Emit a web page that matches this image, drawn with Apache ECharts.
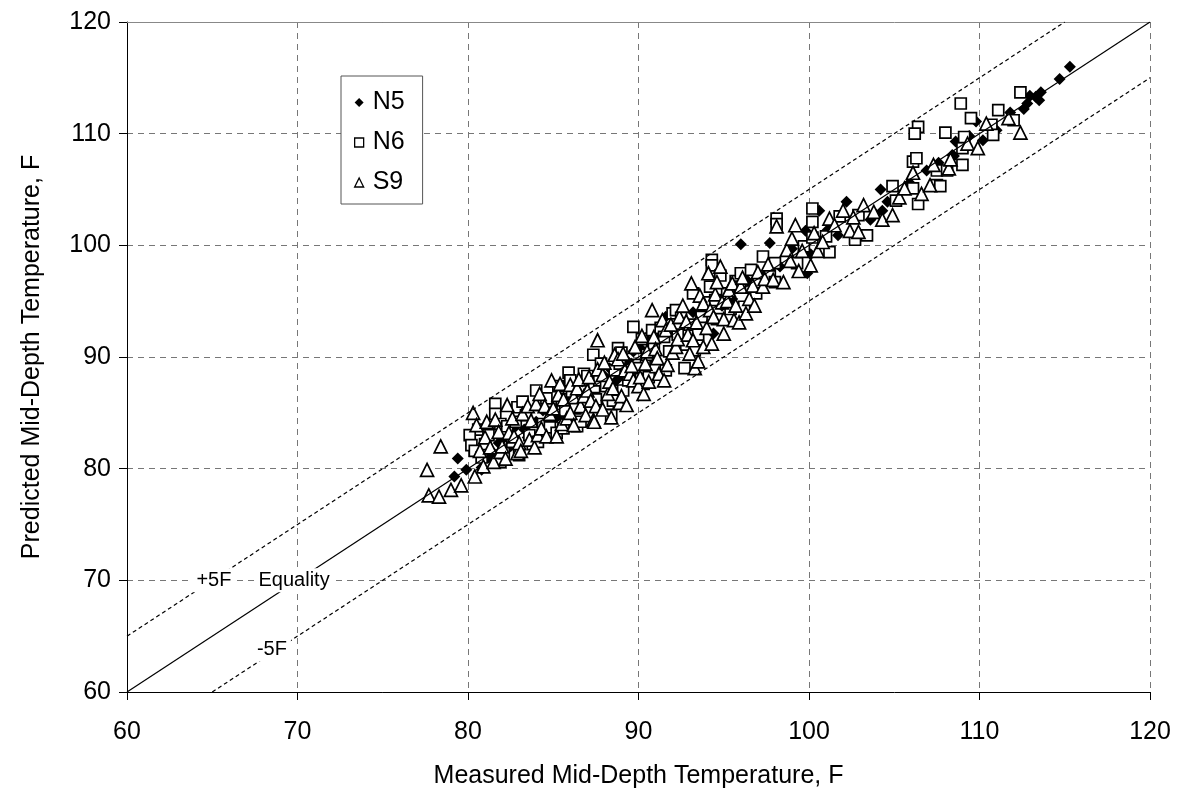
<!DOCTYPE html>
<html>
<head>
<meta charset="utf-8">
<script src="https://cdn.jsdelivr.net/npm/echarts@6/dist/echarts.min.js"></script>
<style>
  html, body { margin: 0; padding: 0; background: #fff; }
  #chart { width: 1177px; height: 794px; }
</style>
</head>
<body>
<div id="chart"></div>
<script>
// measured vs predicted mid-depth temperature, F
const axisTicks = [60, 70, 80, 90, 100, 110, 120]

const n5 = [
  [79.2, 79.3], [79.4, 80.9], [79.9, 79.9], [80.8, 80.1], [80.8, 79.9], [81.2, 81.0], [81.5, 81.4],
  [81.8, 82.3], [82.0, 82.6], [82.5, 82.0], [82.8, 83.8], [83.3, 83.5], [83.5, 82.8], [84.0, 84.2],
  [84.4, 85.2], [84.8, 85.6], [85.2, 84.6], [85.6, 85.0], [86.0, 86.0], [86.3, 86.8], [86.7, 87.8],
  [87.2, 86.9], [87.5, 87.8], [88.0, 88.3], [88.3, 89.0], [88.7, 87.9], [89.0, 88.4], [89.3, 89.7],
  [89.7, 90.5], [90.1, 90.8], [90.4, 91.7], [90.8, 91.4], [91.1, 92.3], [91.6, 93.6], [91.9, 92.3],
  [92.6, 93.5], [93.2, 94.0], [93.7, 94.0], [94.4, 92.1], [94.9, 94.6], [95.5, 95.2], [96.0, 100.1],
  [96.4, 96.8], [97.5, 97.5], [97.7, 100.2], [98.3, 98.1], [99.0, 99.7], [99.8, 101.3], [99.9, 97.5],
  [100.1, 99.2], [100.6, 103.1], [101.1, 101.4], [101.7, 100.9], [102.2, 103.9], [103.6, 102.3],
  [103.9, 102.8], [104.2, 105.0], [104.3, 103.1], [104.6, 103.9], [105.9, 105.6], [106.9, 106.7],
  [107.6, 107.4], [108.4, 108.1], [108.5, 108.0], [108.6, 109.3], [109.4, 109.8], [109.8, 111.1],
  [110.2, 109.4], [111.0, 110.3], [111.8, 111.9], [112.6, 112.2], [112.8, 112.7], [112.95, 113.4],
  [113.3, 113.3], [113.5, 113.0], [113.6, 113.7], [114.7, 114.9], [115.3, 116.0]
]

const n6 = [
  [80.6, 83.5], [80.1, 83.0], [80.2, 82.1], [80.4, 81.6], [80.8, 81.0], [81.0, 82.2], [81.2, 83.0],
  [81.6, 85.8], [81.6, 84.9], [81.9, 80.6], [81.9, 84.0], [82.1, 81.4], [82.3, 83.8], [82.6, 82.4],
  [82.8, 84.2], [82.9, 85.5], [83.0, 81.2], [83.2, 86.0], [83.4, 84.8], [83.6, 83.0], [83.8, 82.2],
  [84.0, 87.0], [84.1, 82.4], [84.3, 85.7], [84.4, 84.0], [84.6, 86.3], [84.8, 83.7], [84.9, 85.3],
  [85.2, 83.2], [85.3, 87.4], [85.5, 86.2], [85.6, 83.6], [85.7, 85.2], [85.9, 88.6], [86.0, 87.9],
  [86.1, 86.9], [86.3, 85.4], [86.4, 83.8], [86.6, 84.2], [86.8, 88.5], [86.9, 86.0], [87.0, 88.3],
  [87.35, 90.2], [87.4, 87.3], [87.5, 86.2], [87.7, 87.9], [87.8, 89.4], [88.1, 87.4], [88.2, 85.8],
  [88.4, 84.8], [88.5, 86.1], [88.6, 88.8], [88.8, 90.8], [88.9, 89.4], [89.0, 90.4], [89.1, 87.0],
  [89.4, 87.9], [89.5, 88.6], [89.7, 92.7], [89.8, 89.3], [90.0, 89.0], [90.2, 91.6], [90.3, 87.6],
  [90.5, 90.2], [90.6, 88.2], [90.8, 92.4], [90.9, 90.9], [91.0, 89.1], [91.3, 92.6], [91.5, 91.8],
  [91.6, 88.8], [91.8, 90.5], [92.0, 93.9], [92.2, 94.2], [92.3, 92.0], [92.5, 93.5], [92.7, 89.0],
  [92.8, 91.1], [93.0, 92.9], [93.2, 95.7], [93.3, 90.6], [93.5, 92.0], [93.7, 93.6], [93.9, 94.9],
  [94.2, 96.3], [94.3, 98.7], [94.3, 98.2], [94.5, 95.1], [94.6, 93.4], [94.8, 97.3], [95.2, 95.7],
  [95.4, 94.3], [95.7, 96.8], [95.95, 96.3], [96.0, 97.5], [96.2, 94.5], [96.6, 97.8], [96.9, 95.7],
  [97.3, 99.0], [97.7, 97.3], [98.0, 98.4], [98.0, 96.7], [98.1, 102.4], [98.1, 101.9], [99.3, 98.4],
  [99.7, 99.9], [100.2, 103.3], [100.2, 102.1], [100.2, 100.7], [101.0, 100.8], [101.2, 99.4],
  [101.8, 102.6], [102.7, 100.5], [102.9, 102.7], [103.4, 100.9], [104.9, 105.3], [105.1, 104.0],
  [106.1, 105.1], [106.1, 107.5], [106.3, 107.8], [106.4, 110.6], [106.2, 110.0], [106.4, 103.7],
  [107.5, 106.7], [107.5, 105.4], [107.7, 105.3], [108.0, 110.1], [108.1, 106.7], [108.9, 112.7],
  [109.0, 108.7], [109.0, 107.2], [109.1, 109.7], [109.5, 111.4], [110.7, 110.8], [110.8, 109.9],
  [111.1, 112.1], [112.0, 111.2], [112.4, 113.7]
]

const s9 = [
  [77.6, 79.9], [77.7, 77.6], [78.3, 77.5], [78.4, 82.0], [79.0, 78.1], [79.6, 78.5], [80.3, 85.0],
  [80.4, 79.3], [80.5, 83.9], [80.7, 81.6], [80.9, 80.2], [81.0, 82.8], [81.1, 84.2], [81.3, 81.9],
  [81.5, 80.6], [81.6, 84.4], [81.8, 83.3], [81.9, 81.5], [82.0, 82.0], [82.2, 80.9], [82.3, 85.7],
  [82.4, 83.2], [82.6, 84.5], [82.7, 82.9], [82.9, 81.4], [83.0, 82.3], [83.1, 81.6], [83.2, 84.9],
  [83.5, 85.6], [83.6, 82.6], [83.7, 84.3], [83.9, 81.9], [84.0, 85.8], [84.1, 83.0], [84.2, 86.7],
  [84.3, 83.6], [84.5, 85.6], [84.6, 82.9], [84.8, 84.9], [84.9, 87.9], [85.0, 85.4], [85.2, 82.9],
  [85.3, 86.6], [85.4, 87.6], [85.5, 84.0], [85.6, 86.2], [85.8, 84.5], [86.0, 87.5], [86.0, 85.0],
  [86.2, 83.9], [86.2, 86.4], [86.4, 87.2], [86.5, 88.0], [86.6, 85.6], [86.8, 86.5], [86.9, 84.8],
  [87.0, 87.0], [87.1, 88.2], [87.2, 86.1], [87.35, 84.35], [87.4, 84.2], [87.5, 85.6], [87.6, 91.5],
  [87.6, 88.9], [87.9, 88.4], [87.9, 85.3], [88.0, 89.5], [88.2, 86.7], [88.3, 87.8], [88.4, 84.6],
  [88.5, 87.2], [88.6, 90.2], [88.8, 89.8], [88.9, 85.9], [89.0, 86.5], [89.1, 90.3], [89.2, 88.8],
  [89.3, 85.7], [89.5, 88.5], [89.6, 89.2], [89.7, 87.9], [89.8, 90.9], [90.0, 87.4], [90.1, 88.2],
  [90.2, 91.9], [90.3, 86.7], [90.4, 89.4], [90.5, 90.5], [90.6, 87.8], [90.8, 94.2], [90.9, 91.8],
  [91.0, 90.7], [91.1, 89.9], [91.2, 88.5], [91.4, 93.3], [91.5, 87.9], [91.6, 92.4], [91.7, 89.3],
  [91.9, 92.9], [92.0, 90.4], [92.2, 90.9], [92.3, 91.6], [92.4, 93.6], [92.6, 94.6], [92.8, 93.2],
  [92.9, 92.0], [93.0, 90.3], [93.1, 96.6], [93.2, 91.5], [93.3, 89.0], [93.4, 93.1], [93.5, 89.6],
  [93.6, 95.5], [93.8, 90.9], [93.8, 94.8], [94.0, 92.6], [94.1, 97.5], [94.2, 94.2], [94.3, 91.2],
  [94.4, 93.6], [94.5, 95.6], [94.6, 96.7], [94.8, 98.1], [94.9, 94.9], [95.0, 92.1], [95.0, 93.4],
  [95.2, 95.0], [95.3, 96.0], [95.5, 96.6], [95.6, 93.3], [95.7, 94.6], [95.9, 93.1], [96.0, 96.3],
  [96.1, 97.1], [96.3, 93.9], [96.5, 95.2], [96.7, 96.4], [96.8, 94.6], [97.0, 97.6], [97.3, 96.3],
  [97.4, 97.0], [97.6, 98.3], [97.9, 96.9], [98.1, 101.7], [98.5, 96.7], [98.7, 99.6], [98.9, 98.6],
  [99.0, 100.6], [99.2, 101.8], [99.4, 97.7], [99.6, 99.5], [100.1, 98.2], [100.3, 101.1],
  [100.5, 99.5], [100.8, 100.3], [101.2, 102.4], [101.5, 101.8], [102.0, 103.1], [102.4, 101.3],
  [102.6, 102.5], [102.9, 101.2], [103.2, 103.6], [103.8, 103.0], [104.3, 102.3], [104.9, 102.7],
  [105.3, 104.3], [105.6, 105.1], [106.1, 106.5], [106.6, 104.6], [107.1, 105.4], [107.3, 107.2],
  [108.2, 106.9], [108.3, 107.7], [109.3, 109.1], [109.9, 108.7], [110.4, 110.9], [111.7, 111.4],
  [112.4, 110.1]
]

const equalityLine = [[60, 60], [120, 120]]
const plus5Line = [[60, 65], [115, 120]]
const minus5Line = [[65, 60], [120, 115]]

const annotations = [
  { name: '+5F', value: [65.1, 70] },
  { name: 'Equality', value: [69.8, 70] },
  { name: '-5F', value: [68.5, 63.8] }
]

const chart = echarts.init(document.getElementById('chart'))
const font = 'Liberation Sans, Arial, sans-serif'

const hollow = { color: '#fff', borderColor: '#000', borderWidth: 1.7, opacity: 1 }

chart.setOption({
  animation: false,
  grid: { left: 127, top: 22, right: 27, bottom: 102, containLabel: false },
  legend: {
    left: 341,
    top: 76,
    orient: 'vertical',
    backgroundColor: '#fff',
    borderColor: '#555',
    borderWidth: 1,
    borderRadius: 0,
    padding: [14, 18, 9, 13],
    itemGap: 15,
    itemWidth: 9,
    itemHeight: 9,
    selectedMode: false,
    inactiveColor: '#000',
    textStyle: { fontFamily: font, fontSize: 25, color: '#000', padding: [0, 0, 0, 4] },
    data: [
      { name: 'N5', icon: 'diamond', itemStyle: { color: '#000', borderWidth: 0, opacity: 1 } },
      { name: 'N6', icon: 'rect', itemStyle: { color: '#fff', borderColor: '#000', borderWidth: 1.3, opacity: 1 } },
      { name: 'S9', icon: 'triangle', itemStyle: { color: '#fff', borderColor: '#000', borderWidth: 1.3, opacity: 1 } }
    ]
  },
  xAxis: [{
    type: 'value',
    min: axisTicks[0],
    max: axisTicks[axisTicks.length - 1],
    interval: 10,
    name: 'Measured Mid-Depth Temperature, F',
    nameLocation: 'middle',
    nameGap: 72,
    nameTextStyle: { fontFamily: font, fontSize: 25, color: '#000' },
    axisLine: { onZero: false, lineStyle: { color: '#000', width: 1 } },
    axisTick: { show: true, length: 8, lineStyle: { color: '#000' } },
    axisLabel: { fontFamily: font, fontSize: 25, color: '#000', margin: 28 },
    splitLine: { show: true, lineStyle: { color: '#777', type: [6, 5], width: 1 } }
  }, {
    type: 'value',
    position: 'top',
    min: axisTicks[0],
    max: axisTicks[axisTicks.length - 1],
    axisLine: { onZero: false, lineStyle: { color: '#888', width: 1 } },
    axisTick: { show: false },
    axisLabel: { show: false },
    splitLine: { show: false }
  }],
  yAxis: {
    type: 'value',
    min: axisTicks[0],
    max: axisTicks[axisTicks.length - 1],
    interval: 10,
    name: 'Predicted Mid-Depth Temperature, F',
    nameLocation: 'middle',
    nameGap: 82,
    nameTextStyle: { fontFamily: font, fontSize: 25, color: '#000' },
    axisLine: { show: true, onZero: false, lineStyle: { color: '#000', width: 1 } },
    axisTick: { show: true, length: 8, lineStyle: { color: '#000' } },
    axisLabel: { fontFamily: font, fontSize: 25, color: '#000', margin: 16 },
    splitLine: { show: true, lineStyle: { color: '#777', type: [6, 5], width: 1 } }
  },
  series: [
    {
      name: 'Equality',
      type: 'line',
      data: equalityLine,
      symbol: 'none',
      silent: true,
      lineStyle: { color: '#000', width: 1.2 }
    },
    {
      name: '+5F',
      type: 'line',
      data: plus5Line,
      symbol: 'none',
      silent: true,
      lineStyle: { color: '#000', width: 1.2, type: [4, 3] }
    },
    {
      name: '-5F',
      type: 'line',
      data: minus5Line,
      symbol: 'none',
      silent: true,
      lineStyle: { color: '#000', width: 1.2, type: [4, 3] }
    },
    {
      name: 'N5',
      type: 'scatter',
      data: n5,
      symbol: 'diamond',
      symbolSize: 12,
      itemStyle: { color: '#000', opacity: 1 }
    },
    {
      name: 'N6',
      type: 'scatter',
      data: n6,
      symbol: 'rect',
      symbolSize: 11,
      itemStyle: hollow
    },
    {
      name: 'S9',
      type: 'scatter',
      data: s9,
      symbol: 'triangle',
      symbolSize: 13,
      itemStyle: hollow
    },
    {
      name: 'notes',
      type: 'scatter',
      data: annotations,
      symbolSize: 0,
      silent: true,
      z: 10,
      itemStyle: { opacity: 1 },
      label: {
        show: true,
        position: 'inside',
        formatter: p => p.name,
        fontFamily: font,
        fontSize: 20,
        color: '#000',
        opacity: 1,
        backgroundColor: '#fff',
        padding: [2, 4]
      }
    }
  ]
})
</script>
</body>
</html>
